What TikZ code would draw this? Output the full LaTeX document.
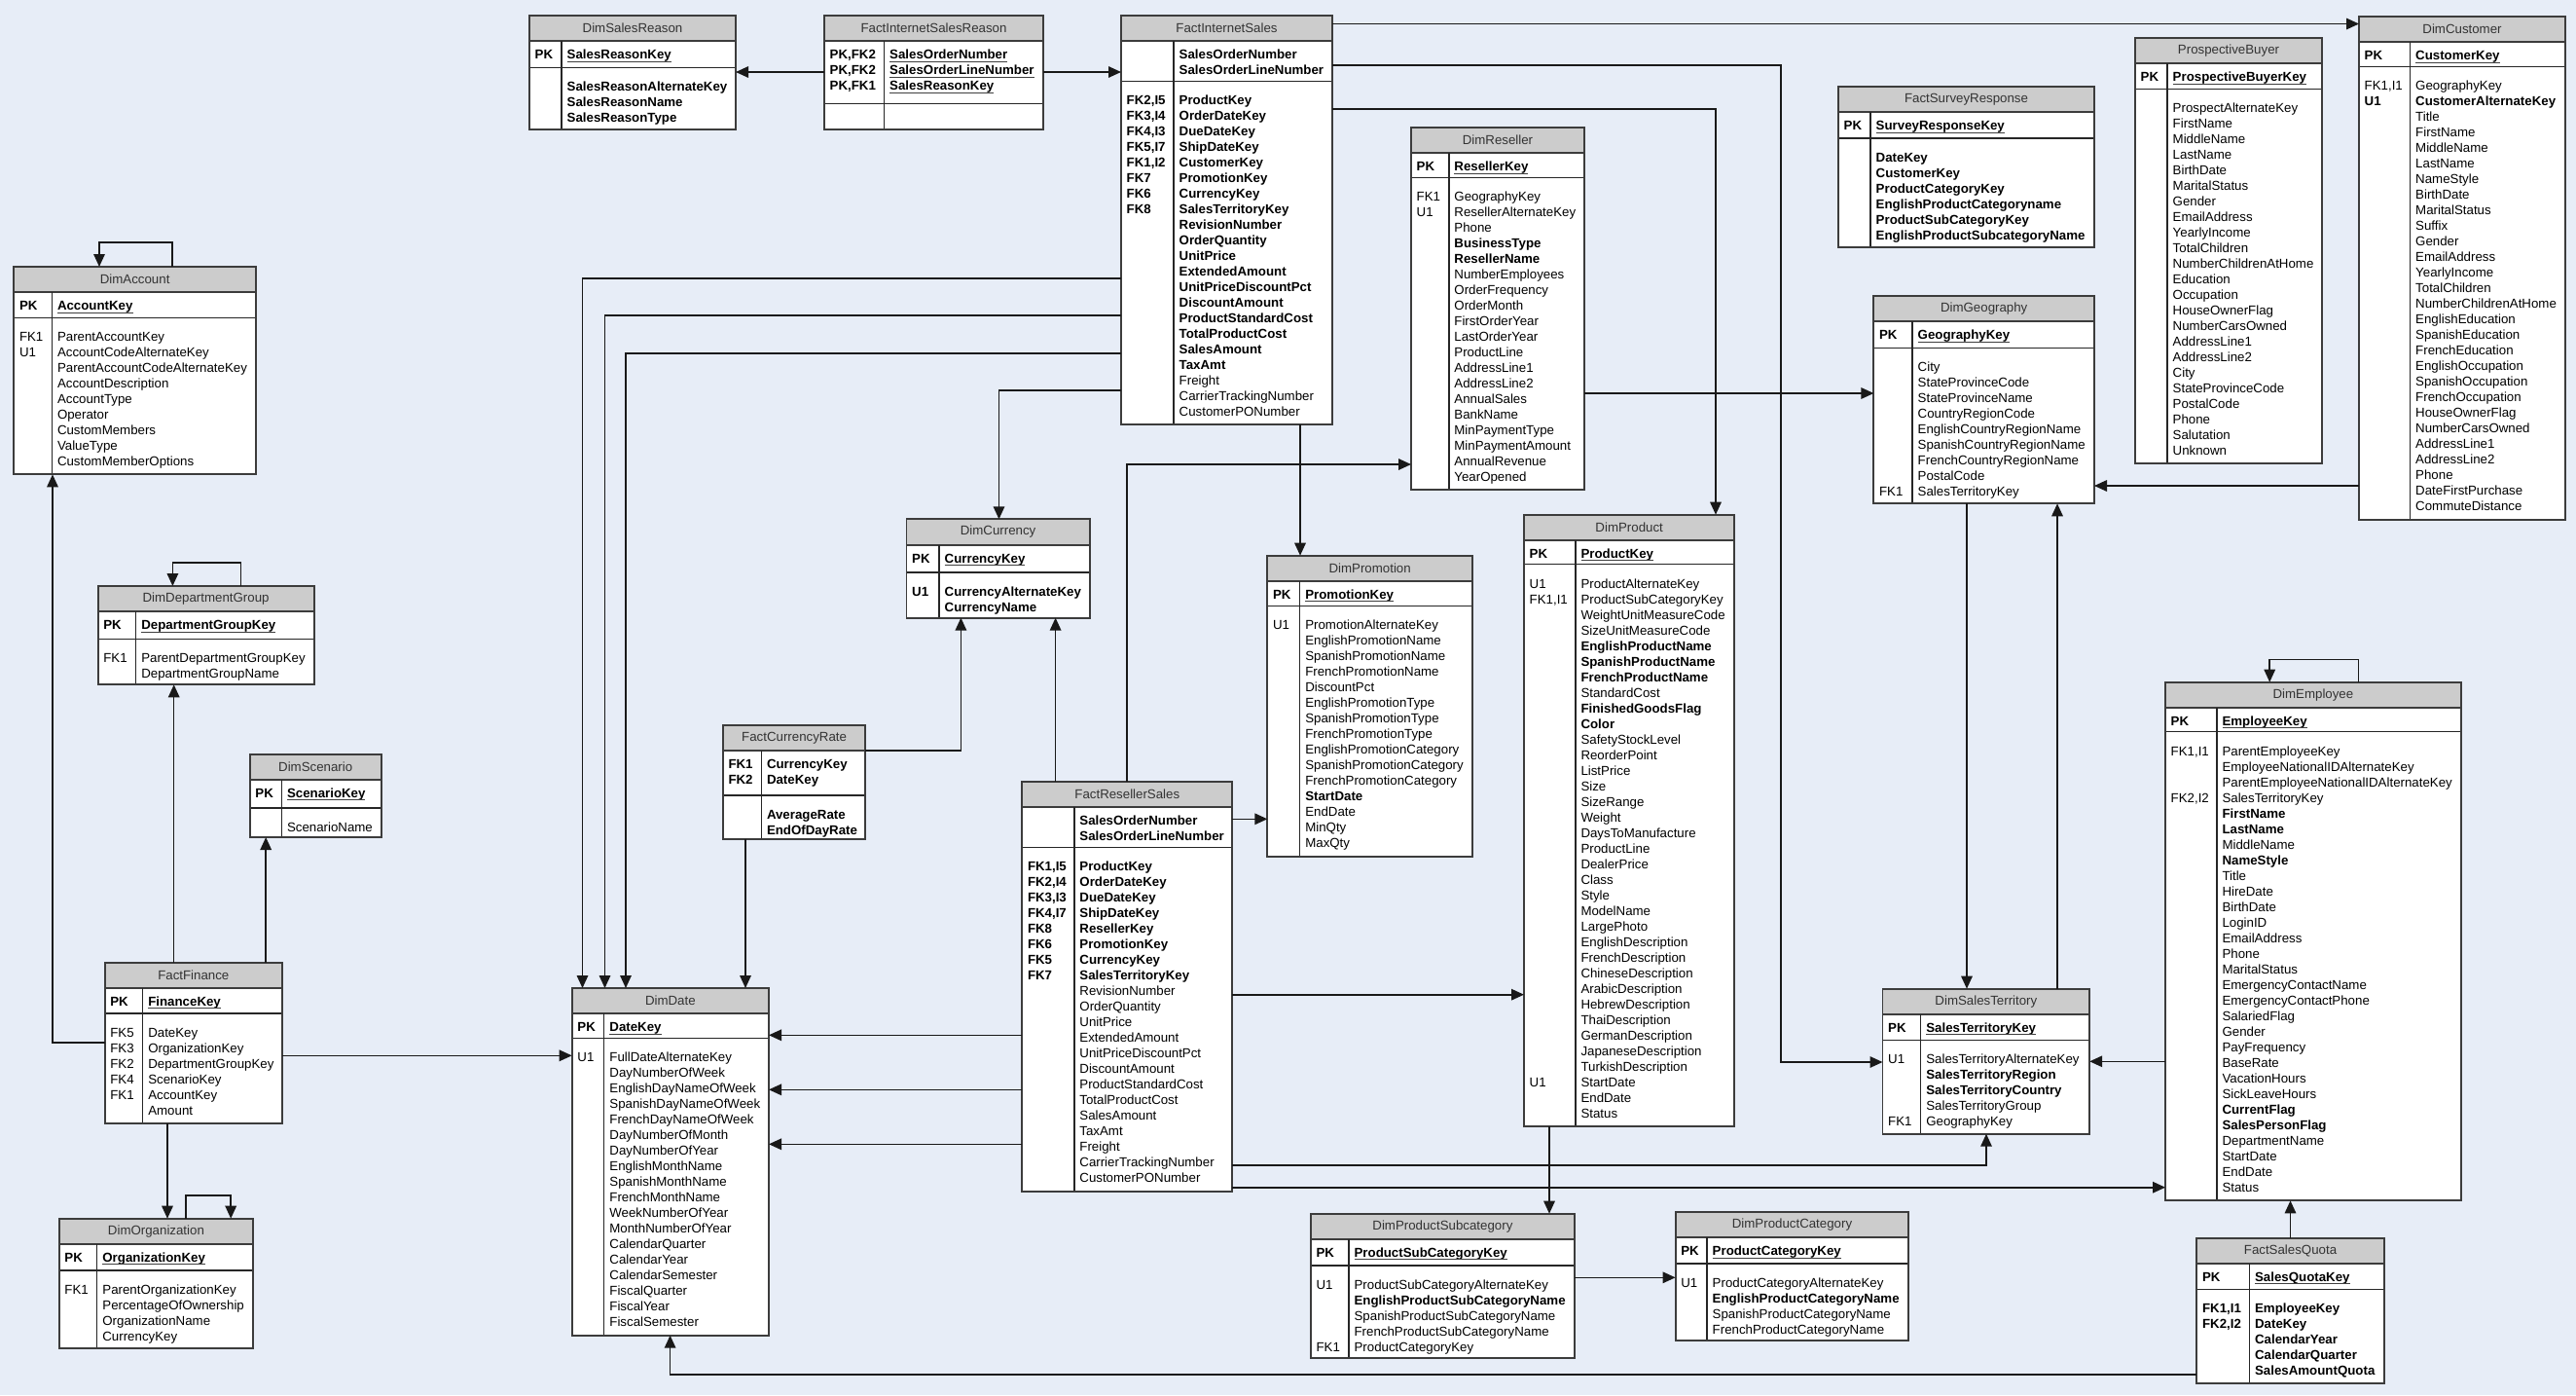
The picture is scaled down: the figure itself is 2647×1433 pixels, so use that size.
\documentclass[tikz,border=0pt]{standalone}
\usepackage{fontspec}
\setmainfont{Liberation Sans}
\usetikzlibrary{arrows.meta}
\definecolor{canvasblue}{HTML}{E7EDF7}
\definecolor{headgray}{HTML}{CCCCCC}
\definecolor{framegray}{HTML}{3C3C3C}
\newcommand{\fb}[1]{\textbf{#1}}
\newcommand{\pk}[1]{\sbox0{\textbf{#1}}\usebox0\llap{\color{black!75}\rule[-0.8pt]{\wd0}{0.28pt}}}
\tikzset{
  tablebox/.style={draw=framegray,fill=white,line width=0.55pt,inner sep=0pt,
                   outer sep=0pt,anchor=north west},
  tablehead/.style={draw=framegray,fill=headgray,line width=0.55pt},
  tablerule/.style={draw=black!85,line width=0.45pt},
  tabletitle/.style={inner sep=0pt,text=black!80,font=\fontsize{3.78pt}{4.55pt}\selectfont},
  fieldtext/.style={anchor=north west,inner sep=0pt,align=left,
                    font=\fontsize{3.78pt}{4.5525pt}\selectfont},
  rel/.style={-{Triangle[length=1.3mm,width=1.15mm]},draw=black!90,line width=0.45pt}
}
% table: name, left, top, width, key column, key part, body part, title
\newcommand{\ertable}[8]{%
  \def\tabn{#1}\def\tabx{#2}\def\tabk{#5}%
  \pgfmathsetmacro\tabpk{#3+26.3}%
  \pgfmathsetmacro\tabbd{#3+26.3+#6}%
  \pgfmathsetmacro\tabbot{#3+26.3+#6+#7}%
  \node[tablebox,minimum width=#4*0.1mm,minimum height=(26.3+#6+#7)*0.1mm] (#1) at (#2,#3) {};
  \draw[tablehead] (#2,#3) rectangle (#2+#4,\tabpk);
  \node[tabletitle] (#1-title) at (#2+#4/2,#3+13.15) {#8};
  \draw[tablerule] (#2,\tabbd) -- (#2+#4,\tabbd);
  \draw[tablerule] (#2+#5,\tabpk) -- (#2+#5,\tabbot);
  \draw[draw=framegray,line width=0.55pt] (#1.north west) rectangle (#1.south east);
}
\newcommand{\erpk}[2]{%
  \node[fieldtext] (\tabn-pkk) at (\tabx+5,\tabpk+6.55) {\strut#1};
  \node[fieldtext] (\tabn-pkf) at (\tabx+\tabk+5,\tabpk+6.55) {\strut#2};}
\newcommand{\erbody}[2]{%
  \node[fieldtext] (\tabn-bdk) at (\tabx+5,\tabbd+12.55) {\strut#1};
  \node[fieldtext] (\tabn-bdf) at (\tabx+\tabk+5,\tabbd+12.55) {\strut#2};}
\newcommand{\erkeyat}[2]{%
  \node[fieldtext] (\tabn-k#1) at (\tabx+5,\tabbd+12.55+16*#1-16) {\strut#2};}

\begin{document}
\begin{tikzpicture}[x=0.1mm,y=-0.1mm]
  \useasboundingbox (0,0) rectangle (2647,1433);
  \fill[canvasblue] (0,0) rectangle (2647,1433);

  \ertable{dsr}{544}{16}{212}{33}{27}{64}{DimSalesReason}
  \erpk{\fb{PK}}{\pk{SalesReasonKey}}
  \erbody{}{\fb{SalesReasonAlternateKey}\\\fb{SalesReasonName}\\\fb{SalesReasonType}}

  \ertable{fisr}{847}{16}{225}{61.5}{64}{27}{FactInternetSalesReason}
  \erpk{\fb{PK,FK2}\\\fb{PK,FK2}\\\fb{PK,FK1}}{\pk{SalesOrderNumber}\\\pk{SalesOrderLineNumber}\\\pk{SalesReasonKey}}

  \ertable{fis}{1152}{16}{217}{54}{41}{353}{FactInternetSales}
  \erpk{}{\fb{SalesOrderNumber}\\\fb{SalesOrderLineNumber}}
  \erbody{\fb{FK2,I5}\\\fb{FK3,I4}\\\fb{FK4,I3}\\\fb{FK5,I7}\\\fb{FK1,I2}\\\fb{FK7}\\\fb{FK6}\\\fb{FK8}}
    {\fb{ProductKey}\\\fb{OrderDateKey}\\\fb{DueDateKey}\\\fb{ShipDateKey}\\\fb{CustomerKey}\\
     \fb{PromotionKey}\\\fb{CurrencyKey}\\\fb{SalesTerritoryKey}\\\fb{RevisionNumber}\\
     \fb{OrderQuantity}\\\fb{UnitPrice}\\\fb{ExtendedAmount}\\\fb{UnitPriceDiscountPct}\\
     \fb{DiscountAmount}\\\fb{ProductStandardCost}\\\fb{TotalProductCost}\\\fb{SalesAmount}\\
     \fb{TaxAmt}\\Freight\\CarrierTrackingNumber\\CustomerPONumber}

  \ertable{dr}{1450}{131}{178}{38.7}{25}{321}{DimReseller}
  \erpk{\fb{PK}}{\pk{ResellerKey}}
  \erbody{FK1\\U1}{GeographyKey\\ResellerAlternateKey\\Phone\\\fb{BusinessType}\\\fb{ResellerName}\\
    NumberEmployees\\OrderFrequency\\OrderMonth\\FirstOrderYear\\LastOrderYear\\ProductLine\\
    AddressLine1\\AddressLine2\\AnnualSales\\BankName\\MinPaymentType\\MinPaymentAmount\\
    AnnualRevenue\\YearOpened}

  \ertable{fsr}{1889}{89}{263}{33}{26.7}{112.3}{FactSurveyResponse}
  \erpk{\fb{PK}}{\pk{SurveyResponseKey}}
  \erbody{}{\fb{DateKey}\\\fb{CustomerKey}\\\fb{ProductCategoryKey}\\\fb{EnglishProductCategoryname}\\
    \fb{ProductSubCategoryKey}\\\fb{EnglishProductSubcategoryName}}

  \ertable{pb}{2194}{39}{192}{33}{26}{385}{ProspectiveBuyer}
  \erpk{\fb{PK}}{\pk{ProspectiveBuyerKey}}
  \erbody{}{ProspectAlternateKey\\FirstName\\MiddleName\\LastName\\BirthDate\\MaritalStatus\\
    Gender\\EmailAddress\\YearlyIncome\\TotalChildren\\NumberChildrenAtHome\\Education\\
    Occupation\\HouseOwnerFlag\\NumberCarsOwned\\AddressLine1\\AddressLine2\\City\\
    StateProvinceCode\\PostalCode\\Phone\\Salutation\\Unknown}

  \ertable{dc}{2424}{17}{212}{52.5}{25}{466}{DimCustomer}
  \erpk{\fb{PK}}{\pk{CustomerKey}}
  \erbody{FK1,I1\\\fb{U1}}{GeographyKey\\\fb{CustomerAlternateKey}\\Title\\FirstName\\MiddleName\\
    LastName\\NameStyle\\BirthDate\\MaritalStatus\\Suffix\\Gender\\EmailAddress\\YearlyIncome\\
    TotalChildren\\NumberChildrenAtHome\\EnglishEducation\\SpanishEducation\\FrenchEducation\\
    EnglishOccupation\\SpanishOccupation\\FrenchOccupation\\HouseOwnerFlag\\NumberCarsOwned\\
    AddressLine1\\AddressLine2\\Phone\\DateFirstPurchase\\CommuteDistance}

  \ertable{dg}{1925.4}{304}{226.6}{39.6}{27}{160}{DimGeography}
  \erpk{\fb{PK}}{\pk{GeographyKey}}
  \erbody{}{City\\StateProvinceCode\\StateProvinceName\\CountryRegionCode\\
    EnglishCountryRegionName\\SpanishCountryRegionName\\FrenchCountryRegionName\\PostalCode\\
    SalesTerritoryKey}
  \erkeyat{9}{FK1}

  \ertable{da}{14.3}{274}{248.7}{39}{26}{161}{DimAccount}
  \erpk{\fb{PK}}{\pk{AccountKey}}
  \erbody{FK1\\U1}{ParentAccountKey\\AccountCodeAlternateKey\\ParentAccountCodeAlternateKey\\
    AccountDescription\\AccountType\\Operator\\CustomMembers\\ValueType\\CustomMemberOptions}

  \ertable{ddg}{100.6}{602}{222}{39}{28}{47}{DimDepartmentGroup}
  \erpk{\fb{PK}}{\pk{DepartmentGroupKey}}
  \erbody{FK1}{ParentDepartmentGroupKey\\DepartmentGroupName}

  \ertable{dsc}{256.7}{774.7}{135}{32.6}{29}{30}{DimScenario}
  \erpk{\fb{PK}}{\pk{ScenarioKey}}
  \erbody{}{ScenarioName}

  \ertable{ff}{107.6}{988.7}{182.4}{39}{26}{112.7}{FactFinance}
  \erpk{\fb{PK}}{\pk{FinanceKey}}
  \erbody{FK5\\FK3\\FK2\\FK4\\FK1}{DateKey\\OrganizationKey\\DepartmentGroupKey\\ScenarioKey\\
    AccountKey\\Amount}

  \ertable{dorg}{60.7}{1251.7}{199.5}{39}{26.7}{80}{DimOrganization}
  \erpk{\fb{PK}}{\pk{OrganizationKey}}
  \erbody{FK1}{ParentOrganizationKey\\PercentageOfOwnership\\OrganizationName\\CurrencyKey}

  \ertable{dd}{587.7}{1015}{202.3}{33}{25}{305.4}{DimDate}
  \erpk{\fb{PK}}{\pk{DateKey}}
  \erbody{U1}{FullDateAlternateKey\\DayNumberOfWeek\\EnglishDayNameOfWeek\\SpanishDayNameOfWeek\\
    FrenchDayNameOfWeek\\DayNumberOfMonth\\DayNumberOfYear\\EnglishMonthName\\SpanishMonthName\\
    FrenchMonthName\\WeekNumberOfYear\\MonthNumberOfYear\\CalendarQuarter\\CalendarYear\\
    CalendarSemester\\FiscalQuarter\\FiscalYear\\FiscalSemester}

  \ertable{dcur}{931.5}{533.3}{188.2}{33.5}{28.3}{46.7}{DimCurrency}
  \erpk{\fb{PK}}{\pk{CurrencyKey}}
  \erbody{\fb{U1}}{\fb{CurrencyAlternateKey}\\\fb{CurrencyName}}

  \ertable{fcr}{742.8}{745}{146.6}{39.5}{45.7}{45}{FactCurrencyRate}
  \erpk{\fb{FK1}\\\fb{FK2}}{\fb{CurrencyKey}\\\fb{DateKey}}
  \erbody{}{\fb{AverageRate}\\\fb{EndOfDayRate}}

  \ertable{frs}{1050.3}{802.7}{216}{53.4}{41.4}{353.3}{FactResellerSales}
  \erpk{}{\fb{SalesOrderNumber}\\\fb{SalesOrderLineNumber}}
  \erbody{\fb{FK1,I5}\\\fb{FK2,I4}\\\fb{FK3,I3}\\\fb{FK4,I7}\\\fb{FK8}\\\fb{FK6}\\\fb{FK5}\\\fb{FK7}}
    {\fb{ProductKey}\\\fb{OrderDateKey}\\\fb{DueDateKey}\\\fb{ShipDateKey}\\\fb{ResellerKey}\\
     \fb{PromotionKey}\\\fb{CurrencyKey}\\\fb{SalesTerritoryKey}\\RevisionNumber\\OrderQuantity\\
     UnitPrice\\ExtendedAmount\\UnitPriceDiscountPct\\DiscountAmount\\ProductStandardCost\\
     TotalProductCost\\SalesAmount\\TaxAmt\\Freight\\CarrierTrackingNumber\\CustomerPONumber}

  \ertable{dp}{1302.3}{570.7}{210.7}{33.3}{25.4}{257.3}{DimPromotion}
  \erpk{\fb{PK}}{\pk{PromotionKey}}
  \erbody{U1}{PromotionAlternateKey\\EnglishPromotionName\\SpanishPromotionName\\
    FrenchPromotionName\\DiscountPct\\EnglishPromotionType\\SpanishPromotionType\\
    FrenchPromotionType\\EnglishPromotionCategory\\SpanishPromotionCategory\\
    FrenchPromotionCategory\\\fb{StartDate}\\EndDate\\MinQty\\MaxQty}

  \ertable{dprod}{1566}{528.7}{216.3}{52.8}{24.6}{577.7}{DimProduct}
  \erpk{\fb{PK}}{\pk{ProductKey}}
  \erbody{U1\\FK1,I1}{ProductAlternateKey\\ProductSubCategoryKey\\WeightUnitMeasureCode\\
    SizeUnitMeasureCode\\\fb{EnglishProductName}\\\fb{SpanishProductName}\\\fb{FrenchProductName}\\
    StandardCost\\\fb{FinishedGoodsFlag}\\\fb{Color}\\SafetyStockLevel\\ReorderPoint\\ListPrice\\
    Size\\SizeRange\\Weight\\DaysToManufacture\\ProductLine\\DealerPrice\\Class\\Style\\ModelName\\
    LargePhoto\\EnglishDescription\\FrenchDescription\\ChineseDescription\\ArabicDescription\\
    HebrewDescription\\ThaiDescription\\GermanDescription\\JapaneseDescription\\
    TurkishDescription\\StartDate\\EndDate\\Status}
  \erkeyat{33}{U1}

  \ertable{dps}{1346.9}{1246.7}{271}{39}{26.7}{95.7}{DimProductSubcategory}
  \erpk{\fb{PK}}{\pk{ProductSubCategoryKey}}
  \erbody{U1}{ProductSubCategoryAlternateKey\\\fb{EnglishProductSubCategoryName}\\
    SpanishProductSubCategoryName\\FrenchProductSubCategoryName\\ProductCategoryKey}
  \erkeyat{5}{FK1}

  \ertable{dpc}{1721.6}{1245}{239.8}{32.4}{26.6}{79.4}{DimProductCategory}
  \erpk{\fb{PK}}{\pk{ProductCategoryKey}}
  \erbody{U1}{ProductCategoryAlternateKey\\\fb{EnglishProductCategoryName}\\
    SpanishProductCategoryName\\FrenchProductCategoryName}

  \ertable{dst}{1934.5}{1015.7}{212.7}{39.1}{26.3}{96.4}{DimSalesTerritory}
  \erpk{\fb{PK}}{\pk{SalesTerritoryKey}}
  \erbody{U1}{SalesTerritoryAlternateKey\\\fb{SalesTerritoryRegion}\\\fb{SalesTerritoryCountry}\\
    SalesTerritoryGroup\\GeographyKey}
  \erkeyat{5}{FK1}

  \ertable{de}{2225}{700.7}{303.8}{52.8}{24.6}{481.7}{DimEmployee}
  \erpk{\fb{PK}}{\pk{EmployeeKey}}
  \erbody{FK1,I1}{ParentEmployeeKey\\EmployeeNationalIDAlternateKey\\
    ParentEmployeeNationalIDAlternateKey\\SalesTerritoryKey\\\fb{FirstName}\\\fb{LastName}\\
    MiddleName\\\fb{NameStyle}\\Title\\HireDate\\BirthDate\\LoginID\\EmailAddress\\Phone\\
    MaritalStatus\\EmergencyContactName\\EmergencyContactPhone\\SalariedFlag\\Gender\\
    PayFrequency\\BaseRate\\VacationHours\\SickLeaveHours\\\fb{CurrentFlag}\\\fb{SalesPersonFlag}\\
    DepartmentName\\StartDate\\EndDate\\Status}
  \erkeyat{4}{FK2,I2}

  \ertable{fsq}{2257.4}{1271.7}{192.2}{54}{26.3}{96.7}{FactSalesQuota}
  \erpk{\fb{PK}}{\pk{SalesQuotaKey}}
  \erbody{\fb{FK1,I1}\\\fb{FK2,I2}}{\fb{EmployeeKey}\\\fb{DateKey}\\\fb{CalendarYear}\\
    \fb{CalendarQuarter}\\\fb{SalesAmountQuota}}

  % relationships
  \draw[rel] (fisr.west |- 0,74) -- (dsr.east |- 0,74);
  \draw[rel] (fisr.east |- 0,74) -- (fis.west |- 0,74);
  \draw[rel] (fis.east |- 0,24.5) -- (dc.west |- 0,24.5);
  \draw[rel] (fis.east |- 0,67) -| (1830,1091) -- (dst.west |- 0,1091);
  \draw[rel] (fis.east |- 0,112) -| (dprod.north -| 1763,0);
  \draw[rel] (fis.south -| 1336,0) -- (dp.north -| 1336,0);
  \draw[rel] (fis.west |- 0,401) -| (dcur.north -| 1026.5,0);
  \foreach \yy/\xx in {286/598.5,324/621.5,363/643}
    \draw[rel] (fis.west |- 0,\yy) -| (dd.north -| \xx,0);
  \draw[rel] (frs.north -| 1084.6,0) -- (dcur.south -| 1084.6,0);
  \draw[rel] (frs.north -| 1158,0) |- (dr.west |- 0,477);
  \draw[rel] (frs.east |- 0,841.3) -- (dp.west |- 0,841.3);
  \draw[rel] (frs.east |- 0,1021.7) -- (dprod.west |- 0,1021.7);
  \draw[rel] (frs.east |- 0,1196.7) -| (dst.south -| 2041,0);
  \draw[rel] (frs.east |- 0,1219.7) -- (de.west |- 0,1219.7);
  \foreach \yy in {1063.3,1119.3,1175.3}
    \draw[rel] (frs.west |- 0,\yy) -- (dd.east |- 0,\yy);
  \draw[rel] (fcr.east |- 0,771) -| (dcur.south -| 987.4,0);
  \draw[rel] (fcr.south -| 766,0) -- (dd.north -| 766,0);
  \draw[rel] (ff.west |- 0,1071) -| (da.south -| 54,0);
  \draw[rel] (ff.north -| 178.7,0) -- (ddg.south -| 178.7,0);
  \draw[rel] (ff.north -| 273.2,0) -- (dsc.south -| 273.2,0);
  \draw[rel] (ff.east |- 0,1084.3) -- (dd.west |- 0,1084.3);
  \draw[rel] (ff.south -| 172,0) -- (dorg.north -| 172,0);
  \draw[rel] (dr.east |- 0,404) -- (dg.west |- 0,404);
  \draw[rel] (dc.west |- 0,499) -- (dg.east |- 0,499);
  \draw[rel] (dg.south -| 2021,0) -- (dst.north -| 2021,0);
  \draw[rel] (dst.north -| 2114,0) -- (dg.south -| 2114,0);
  \draw[rel] (de.west |- 0,1090.3) -- (dst.east |- 0,1090.3);
  \draw[rel] (fsq.north -| 2353.5,0) -- (de.south -| 2353.5,0);
  \draw[rel] (fsq.west |- 0,1411.7) -| (dd.south -| 688.6,0);
  \draw[rel] (dprod.south -| 1592,0) -- (dps.north -| 1592,0);
  \draw[rel] (dps.east |- 0,1312.3) -- (dpc.west |- 0,1312.3);
  % self references
  \draw[rel] (da.north -| 177,0) |- (102,249) -- (da.north -| 102,0);
  \draw[rel] (ddg.north -| 247.6,0) |- (177.4,578) -- (ddg.north -| 177.4,0);
  \draw[rel] (dorg.north -| 191,0) |- (237.2,1227.7) -- (dorg.north -| 237.2,0);
  \draw[rel] (de.north -| 2423.3,0) |- (2332.2,677.3) -- (de.north -| 2332.2,0);
\end{tikzpicture}
\end{document}
